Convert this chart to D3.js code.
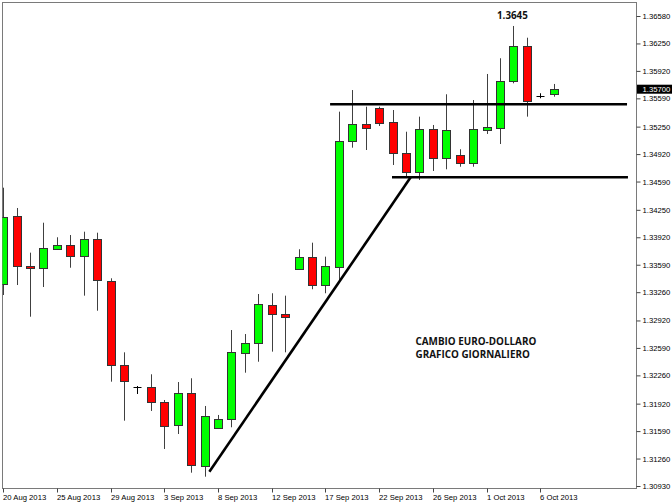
<!DOCTYPE html>
<html><head><meta charset="utf-8">
<script src="https://cdn.jsdelivr.net/npm/d3@7"></script>
<style>body{margin:0;background:#fff}svg{display:block}</style>
</head><body><svg id="c" width="672" height="504"></svg>
<script>
const dates = ["20 Aug 2013","21 Aug 2013","22 Aug 2013","23 Aug 2013","25 Aug 2013","26 Aug 2013","27 Aug 2013","28 Aug 2013","29 Aug 2013","30 Aug 2013",
 "1 Sep 2013","2 Sep 2013","3 Sep 2013","4 Sep 2013","5 Sep 2013","6 Sep 2013","8 Sep 2013","9 Sep 2013","10 Sep 2013","11 Sep 2013","12 Sep 2013","13 Sep 2013",
 "15 Sep 2013","16 Sep 2013","17 Sep 2013","18 Sep 2013","19 Sep 2013","20 Sep 2013","22 Sep 2013","23 Sep 2013","24 Sep 2013","25 Sep 2013","26 Sep 2013","27 Sep 2013",
 "29 Sep 2013","30 Sep 2013","1 Oct 2013","2 Oct 2013","3 Oct 2013","4 Oct 2013","6 Oct 2013","7 Oct 2013"];
const open  = [1.33358,1.34176,1.33578,1.33554,1.33779,1.33827,1.33695,1.33899,1.33398,1.32385,1.32124,1.32124,1.31944,1.31655,1.32045,1.31174,1.31624,1.31732,1.32537,1.32646,1.33102,1.32994,1.33547,1.33679,1.33346,1.33571,1.35086,1.35285,1.35478,1.35306,1.34930,1.34701,1.35218,1.34869,1.34909,1.34809,1.35218,1.35237,1.35802,1.36219,1.35622,1.35639];
const high  = [1.34516,1.34272,1.33735,1.34095,1.33920,1.33947,1.33987,1.33975,1.33427,1.32537,1.32132,1.32273,1.31964,1.32180,1.32225,1.31892,1.31784,1.32805,1.32757,1.33238,1.33247,1.33218,1.33776,1.33855,1.33687,1.35430,1.35690,1.35490,1.35490,1.35450,1.35189,1.35370,1.35270,1.35639,1.34978,1.35570,1.35883,1.36072,1.36460,1.36319,1.35651,1.35763];
const low   = [1.33226,1.33346,1.32965,1.33322,1.33770,1.33554,1.33218,1.33037,1.32184,1.31715,1.32036,1.31832,1.31375,1.31555,1.31090,1.31042,1.31615,1.31636,1.32292,1.32424,1.32545,1.32537,1.33547,1.33295,1.33247,1.33382,1.34997,1.34969,1.35258,1.34789,1.34648,1.34609,1.34717,1.34737,1.34768,1.34768,1.35162,1.35041,1.35771,1.35370,1.35591,1.35610];
const close = [1.34167,1.33578,1.33559,1.33791,1.33827,1.33695,1.33899,1.33407,1.32393,1.32196,1.32124,1.31944,1.31655,1.32045,1.31174,1.31772,1.31732,1.32537,1.32653,1.33114,1.32994,1.32958,1.33687,1.33346,1.33578,1.35083,1.35285,1.35234,1.35297,1.34930,1.34701,1.35218,1.34869,1.35210,1.34809,1.35218,1.35249,1.35802,1.36219,1.35558,1.35622,1.35700];
const yTicks = [1.36580,1.36250,1.35920,1.35590,1.35250,1.34920,1.34590,1.34250,1.33920,1.33590,1.33260,1.32920,1.32590,1.32260,1.31920,1.31590,1.31260,1.30930];
const xTickIdx = [0,4,8,12,16,20,24,28,32,36,40];
const lastPrice = 1.35700;
const peakLabel = "1.3645";
const noteLines = ["CAMBIO EURO-DOLLARO","GRAFICO GIORNALIERO"];
// drawn lines: [startIndex, startPrice, endIndex, endPrice]
const trendLine = [15.36, 1.31102, 30.35, 1.34641];
const resistance = [24.35, 1.35519, 46.46, 1.35519];
const support = [28.96, 1.34641, 46.53, 1.34641];

const svg = d3.select("#c");
const L = 2.5, R = 636.5, T = 2.5, B = 488.5;
const x = d3.scaleLinear().domain([0, 41]).range([3.07, 553.7]);
const y = d3.scaleLinear().domain([1.30930, 1.36580]).range([486, 16]);

svg.append("defs").append("clipPath").attr("id","clip")
  .append("rect").attr("x",L).attr("y",T).attr("width",R-L).attr("height",B-T);

// frame
svg.append("rect").attr("x",L).attr("y",T).attr("width",R-L).attr("height",B-T)
  .attr("fill","none").attr("stroke","#7a7a7a").attr("stroke-width",1);

const g = svg.append("g").attr("clip-path","url(#clip)");
const data = dates.map((d,i)=>({i,o:open[i],h:high[i],l:low[i],c:close[i]}));
const px = i => Math.round(x(i)) + 0.5;

const cg = g.selectAll("g.c").data(data).join("g");
cg.append("line")
  .attr("x1",d=>px(d.i)).attr("x2",d=>px(d.i))
  .attr("y1",d=>y(d.h)).attr("y2",d=>y(d.l))
  .attr("stroke",d=>d.o===d.c?"#000":"#404040").attr("stroke-width",1);
cg.filter(d=>d.o!==d.c).append("rect")
  .attr("x",d=>px(d.i)-4).attr("width",8)
  .attr("y",d=>Math.round(y(Math.max(d.o,d.c)))+0.5)
  .attr("height",d=>Math.max(1,Math.round(Math.abs(y(d.o)-y(d.c)))))
  .attr("fill",d=>d.c>d.o?"#00ff00":"#ff0000")
  .attr("stroke","#333").attr("stroke-width",1);
cg.filter(d=>d.o===d.c).append("line")
  .attr("x1",d=>px(d.i)-4).attr("x2",d=>px(d.i)+4)
  .attr("y1",d=>Math.round(y(d.o))+0.5).attr("y2",d=>Math.round(y(d.o))+0.5)
  .attr("stroke","#000").attr("stroke-width",1);

// drawn lines
[resistance, support, trendLine].forEach(l=>{
  g.append("line").attr("x1",x(l[0])).attr("y1",y(l[1])).attr("x2",x(l[2])).attr("y2",y(l[3]))
   .attr("stroke","#000").attr("stroke-width",2.6);
});

// annotations
const f = "'Open Sans', 'Liberation Sans', sans-serif";
svg.append("text").attr("x",x(38)-1).attr("y",19).attr("text-anchor","middle")
  .attr("font-family",f).attr("font-weight","bold").attr("font-size",9.8).attr("fill","#111").text(peakLabel);
noteLines.forEach((t,k)=>{
  svg.append("text").attr("x",415.5).attr("y",345+k*13.3)
    .attr("font-family",f).attr("font-weight","bold").attr("font-size",9.9).attr("fill","#111").text(t);
});

// axes
const af = "'Liberation Sans', Arial, sans-serif";
const ya = svg.append("g").attr("transform",`translate(${R},0)`)
  .call(d3.axisRight(y).tickValues(yTicks).tickSize(4).tickPadding(2).tickFormat(d3.format(".5f")));
ya.select(".domain").remove();
ya.selectAll("line").attr("stroke","#444");
ya.selectAll("text").attr("font-family",af).attr("font-size",7.7).attr("fill","#000");

const xa = svg.append("g").attr("transform",`translate(0,${B})`)
  .call(d3.axisBottom(x).tickValues(xTickIdx).tickSize(4).tickPadding(2).tickFormat(i=>dates[i]));
xa.select(".domain").remove();
xa.selectAll("line").attr("stroke","#444");
xa.selectAll(".tick").attr("transform",i=>`translate(${px(i)},0)`);
xa.selectAll("text").attr("font-family",af).attr("font-size",7.7).attr("fill","#000")
  .attr("text-anchor","start").attr("x",-0.5).attr("dy","0.71em");

// last price box
const ly = y(lastPrice);
svg.append("rect").attr("x",637).attr("y",ly-4.5).attr("width",35).attr("height",9).attr("fill","#000");
svg.append("text").attr("x",642.5).attr("y",ly).attr("dy","0.34em")
  .attr("font-family",af).attr("font-size",7.7).attr("fill","#fff").text(d3.format(".5f")(lastPrice));
</script></body></html>
